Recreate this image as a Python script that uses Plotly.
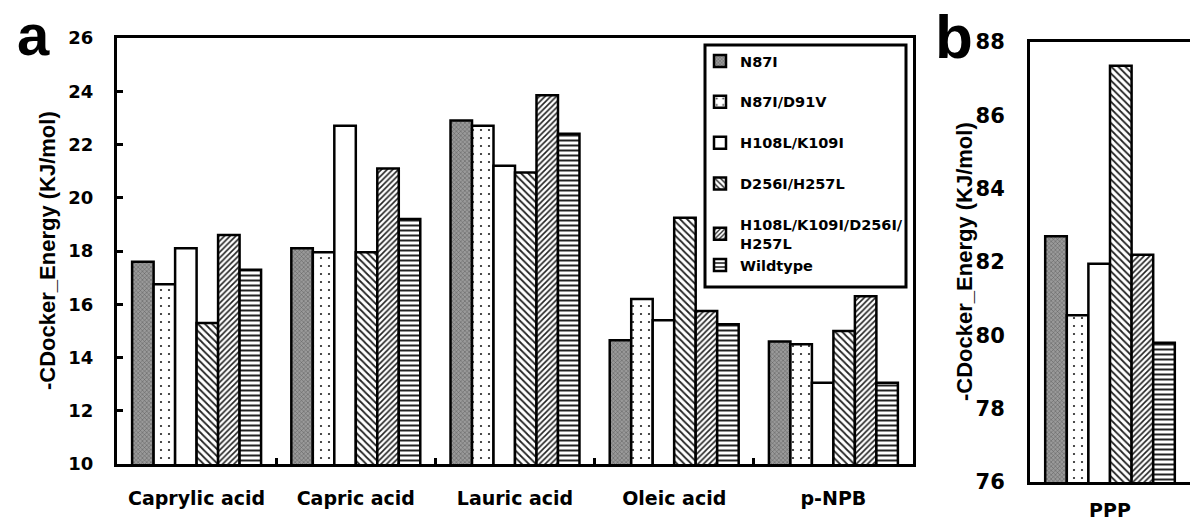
import plotly.graph_objects as go

categories = ["Caprylic acid", "Capric acid", "Lauric acid", "Oleic acid", "p-NPB"]
series_names = ["N87I", "N87I/D91V", "H108L/K109I", "D256I/H257L",
                "H108L/K109I/D256I/<br>H257L", "Wildtype"]
legend_groups = ["g0", "g1", "g2", "g3", "g4", "g4"]
values_a = [
    [17.6, 18.1, 22.9, 14.65, 14.6],
    [16.75, 17.95, 22.7, 16.2, 14.5],
    [18.1, 22.7, 21.2, 15.4, 13.05],
    [15.3, 17.95, 20.95, 19.25, 15.0],
    [18.6, 21.1, 23.85, 15.75, 16.3],
    [17.3, 19.2, 22.4, 15.25, 13.05],
]
category_b = ["PPP"]
values_b = [82.7, 80.55, 81.95, 87.35, 82.2, 79.8]

W, H = 1190, 524
ARIAL = "Liberation Sans, Arial, sans-serif"
WIDE = "DejaVu Sans, Verdana, sans-serif"

styles = [
    dict(bgcolor="#9a9a9a", fgcolor="#5a5a5a", shape="x", size=3, solidity=0.3),
    dict(bgcolor="white", fgcolor="#222", shape=".", size=8, solidity=0.06),
    dict(bgcolor="white", fgcolor="white", shape="", size=6, solidity=0.2),
    dict(bgcolor="white", fgcolor="#222", shape="\\", size=5, solidity=0.35),
    dict(bgcolor="white", fgcolor="#222", shape="/", size=4, solidity=0.4),
    dict(bgcolor="white", fgcolor="#222", shape="-", size=5, solidity=0.4),
]

fig = go.Figure()
for i, name in enumerate(series_names):
    st = styles[i]
    pat = dict(shape=st["shape"], fgcolor=st["fgcolor"], bgcolor=st["bgcolor"],
               size=st["size"], solidity=st["solidity"], fillmode="replace")
    mk = dict(color=st["bgcolor"], line=dict(color="black", width=2.5), pattern=pat)
    fig.add_trace(go.Bar(x=categories, y=values_a[i], name=name,
                         legendgroup=legend_groups[i], marker=mk, xaxis="x", yaxis="y"))
    fig.add_trace(go.Bar(x=category_b, y=[values_b[i]], name=name,
                         legendgroup=legend_groups[i], showlegend=False,
                         marker=mk, xaxis="x2", yaxis="y2"))

ax_common = dict(showline=True, linecolor="black", linewidth=3, showgrid=False,
                 zeroline=False, automargin=False)

fig.update_layout(
    width=W, height=H, margin=dict(l=0, r=0, t=0, b=0, autoexpand=False),
    paper_bgcolor="white", plot_bgcolor="white",
    barmode="group", bargap=0.19, bargroupgap=0,
    font=dict(family=ARIAL, color="black"),
    xaxis=dict(domain=[117 / W, 913 / W], anchor="y", mirror=True, ticks="inside",
               tickson="boundaries", ticklen=6, tickwidth=2.5, tickcolor="black",
               tickfont=dict(family=WIDE, size=19, color="black", weight="bold"),
               ticklabelstandoff=15, **ax_common),
    yaxis=dict(domain=[1 - 464 / H, 1 - 38 / H], anchor="x", mirror=True, range=[10, 26],
               dtick=2, ticks="inside", ticklen=6, tickwidth=2.5, tickcolor="black",
               tickfont=dict(family=WIDE, size=18, color="black", weight="bold"),
               ticklabelstandoff=17, **ax_common),
    xaxis2=dict(domain=[1030 / W, 1.0], anchor="y2", mirror=True, ticks="",
                tickfont=dict(family=WIDE, size=19, color="black", weight="bold"),
                ticklabelstandoff=9, **ax_common),
    yaxis2=dict(domain=[1 - 482 / H, 1 - 42 / H], anchor="x2", range=[76, 88], dtick=2,
                ticks="", tickfont=dict(family=WIDE, size=21, color="black", weight="bold"),
                ticklabelstandoff=18, **ax_common),
    legend=dict(x=700 / W, y=1 - 45 / H, xanchor="left", yanchor="top",
                bgcolor="rgba(0,0,0,0)", borderwidth=0, traceorder="grouped",
                tracegroupgap=19,
                font=dict(family=WIDE, size=14.5, color="black", weight="bold")),
    shapes=[dict(type="rect", xref="paper", yref="paper",
                 x0=705 / W, x1=906 / W, y0=1 - 287 / H, y1=1 - 45 / H,
                 line=dict(color="black", width=3), fillcolor="rgba(0,0,0,0)")],
    annotations=[
        dict(text="a", x=33 / W, y=1.0, xref="paper", yref="paper",
             xanchor="center", yanchor="top", showarrow=False,
             font=dict(family=ARIAL, size=58, color="black", weight="bold")),
        dict(text="b", x=954 / W, y=1.0, xref="paper", yref="paper",
             xanchor="center", yanchor="top", showarrow=False,
             font=dict(family=ARIAL, size=62, color="black", weight="bold")),
        dict(text="-CDocker_Energy (KJ/mol)", x=48 / W, y=1 - 251 / H, xref="paper",
             yref="paper", textangle=-90, showarrow=False,
             xanchor="center", yanchor="middle",
             font=dict(family=ARIAL, size=22, color="black", weight="bold")),
        dict(text="-CDocker_Energy (KJ/mol)", x=964 / W, y=1 - 262 / H, xref="paper",
             yref="paper", textangle=-90, showarrow=False,
             xanchor="center", yanchor="middle",
             font=dict(family=ARIAL, size=22, color="black", weight="bold")),
    ],
)

fig.write_html("out.html")
